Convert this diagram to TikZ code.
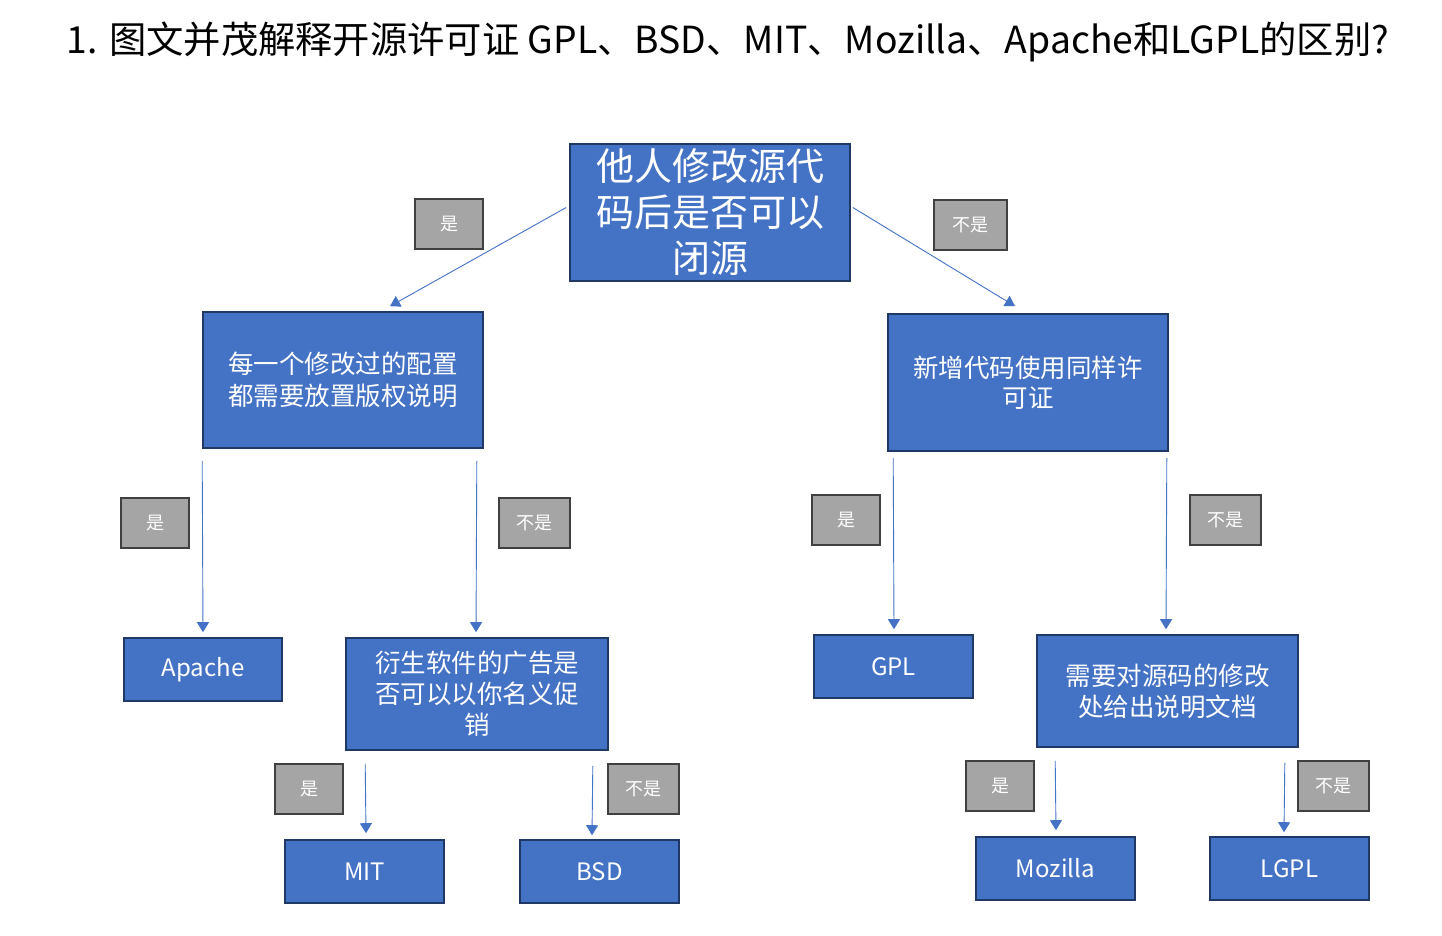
\documentclass[tikz,border=0pt]{standalone}
\usepackage{fontspec}
\setmainfont{Noto Sans CJK SC}
\usepackage{tikz}
\usetikzlibrary{arrows.meta}
\definecolor{boxblue}{HTML}{4472C4}
\definecolor{boxedge}{HTML}{1F3864}
\definecolor{tagfill}{HTML}{A5A5A5}
\definecolor{tagedge}{HTML}{404040}
\tikzset{
  qbox/.style={draw=boxedge,fill=boxblue,line width=1.6pt,text=white,align=center,inner sep=2pt},
  tag/.style={draw=tagedge,fill=tagfill,line width=1.6pt,text=white,minimum height=50pt,font=\fontsize{18}{20}\selectfont},
  arr/.style={draw=boxblue,line width=0.9pt,-{Triangle[width=12pt,length=10pt]}}
}

\begin{document}
\begin{tikzpicture}[x=1pt,y=-1pt]
\useasboundingbox[fill=white] (0,0) rectangle (1442,935);
\node (title) at (728,42) {\fontsize{37.3}{40}\selectfont 1. 图文并茂解释开源许可证 GPL、BSD、MIT、Mozilla、Apache和LGPL的区别?};
% first question
\node[qbox,minimum width=280pt,minimum height=137pt,font=\fontsize{38}{46}\selectfont] (root) at (710,212.5) {他人修改源代\\码后是否可以\\闭源};
\node[qbox,minimum width=280pt,minimum height=136pt,font=\fontsize{25.5}{32}\selectfont] (cfg) at (343,380) {每一个修改过的配置\\都需要放置版权说明};
\node[qbox,minimum width=280pt,minimum height=137pt,font=\fontsize{25.5}{30}\selectfont] (add) at (1028,382.5) {新增代码使用同样许\\可证};
% second level
\node[qbox,minimum width=158pt,minimum height=63pt,font=\fontsize{24}{28}\selectfont] (apache) at (203,669.5) {Apache};
\node[qbox,minimum width=262pt,minimum height=112pt,font=\fontsize{25.5}{31}\selectfont] (ad) at (477,694) {衍生软件的广告是\\否可以以你名义促\\销};
\node[qbox,minimum width=159pt,minimum height=63pt,font=\fontsize{24}{28}\selectfont] (gpl) at (893.5,666.5) {GPL};
\node[qbox,minimum width=261pt,minimum height=112pt,font=\fontsize{25.5}{31}\selectfont] (doc) at (1167.5,691) {需要对源码的修改\\处给出说明文档};
% leaves
\node[qbox,minimum width=159pt,minimum height=63pt,font=\fontsize{24}{28}\selectfont] (mit) at (364.5,871.5) {MIT};
\node[qbox,minimum width=159pt,minimum height=63pt,font=\fontsize{24}{28}\selectfont] (bsd) at (599.5,871.5) {BSD};
\node[qbox,minimum width=159pt,minimum height=63pt,font=\fontsize{24}{28}\selectfont] (mozilla) at (1055.5,868.5) {Mozilla};
\node[qbox,minimum width=159pt,minimum height=63pt,font=\fontsize{24}{28}\selectfont] (lgpl) at (1289.5,868.5) {LGPL};
% yes / no tags
\node[tag,minimum width=68pt] (y1) at (449,224) {是};
\node[tag,minimum width=73pt] (n1) at (970.5,225) {不是};
\node[tag,minimum width=68pt] (y2) at (155,523) {是};
\node[tag,minimum width=71pt] (n2) at (534.5,523) {不是};
\node[tag,minimum width=68pt] (y3) at (846,520) {是};
\node[tag,minimum width=71pt] (n3) at (1225.5,520) {不是};
\node[tag,minimum width=68pt] (y4) at (309,789) {是};
\node[tag,minimum width=71pt] (n4) at (643.5,789) {不是};
\node[tag,minimum width=68pt] (y5) at (1000,786) {是};
\node[tag,minimum width=71pt] (n5) at (1333.5,786) {不是};
% arrows
\draw[arr] ([xshift=-3pt,yshift=5pt]root.west) -- ([xshift=47pt,yshift=5pt]cfg.north);
\draw[arr] ([xshift=2pt,yshift=5pt]root.east) -- ([xshift=-13pt,yshift=7pt]add.north);
\draw[arr] ([yshift=-12pt]cfg.south west) -- ([yshift=5pt]apache.north);
\draw[arr] ([xshift=-7pt,yshift=-12pt]cfg.south east) -- ([xshift=-1pt,yshift=5pt]ad.north);
\draw[arr] ([xshift=6pt,yshift=-6pt]add.south west) -- ([xshift=0.5pt,yshift=5pt]gpl.north);
\draw[arr] ([xshift=-2pt,yshift=-6pt]add.south east) -- ([xshift=-1.5pt,yshift=5pt]doc.north);
\draw[arr] ([xshift=20pt,yshift=-13pt]ad.south west) -- ([xshift=1.5pt,yshift=6pt]mit.north);
\draw[arr] ([xshift=-16pt,yshift=-15pt]ad.south east) -- ([xshift=-7.5pt,yshift=4pt]bsd.north);
\draw[arr] ([xshift=19pt,yshift=-13pt]doc.south west) -- ([xshift=0.5pt,yshift=6pt]mozilla.north);
\draw[arr] ([xshift=-14pt,yshift=-15pt]doc.south east) -- ([xshift=-5.5pt,yshift=4pt]lgpl.north);
\end{tikzpicture}
\end{document}
